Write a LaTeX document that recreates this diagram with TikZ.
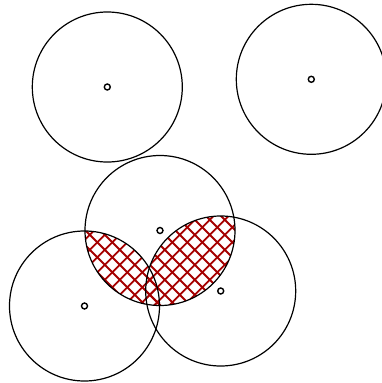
\documentclass[tikz,border=0pt]{standalone}
\definecolor{hatchred}{HTML}{A50000}
\begin{document}
\begin{tikzpicture}[x=1pt,y=-1pt,
  bigcirc/.style={draw=black, circle, line width=1.2pt, minimum size=150pt, inner sep=0pt},
  ctr/.style={draw=black, circle, fill=white, line width=1.4pt, minimum size=6pt, inner sep=0pt},
  hatch/.style={draw=hatchred, line width=1.8pt}]
\useasboundingbox (0,0) rectangle (382,383);
\coordinate (cA) at (107.3,87);
\coordinate (cB) at (311.3,79.3);
\coordinate (cC) at (160,230.5);
\coordinate (cD) at (84.5,306);
\coordinate (cE) at (220.7,291);
% hatched lenses
\begin{scope}
  \clip (cC) circle[radius=75pt];
  \clip (cD) circle[radius=75pt];
  \foreach \c in {-400,-385,...,400} \draw[hatch] (\c,0) -- ++(420,420);
  \foreach \c in {9.6,24.6,...,800} \draw[hatch] (\c,0) -- ++(-420,420);
\end{scope}
\begin{scope}
  \clip (cC) circle[radius=75pt];
  \clip (cE) circle[radius=75pt];
  \foreach \c in {-400,-385,...,400} \draw[hatch] (\c,0) -- ++(420,420);
  \foreach \c in {9.6,24.6,...,800} \draw[hatch] (\c,0) -- ++(-420,420);
\end{scope}
% circles
\node[bigcirc] (A) at (cA) {};
\node[bigcirc] (B) at (cB) {};
\node[bigcirc] (C) at (cC) {};
\node[bigcirc] (D) at (cD) {};
\node[bigcirc] (E) at (cE) {};
% centres
\node[ctr] (a) at (cA) {};
\node[ctr] (b) at (cB) {};
\node[ctr] (c) at (cC) {};
\node[ctr] (d) at (cD) {};
\node[ctr] (e) at (cE) {};
\end{tikzpicture}
\end{document}
